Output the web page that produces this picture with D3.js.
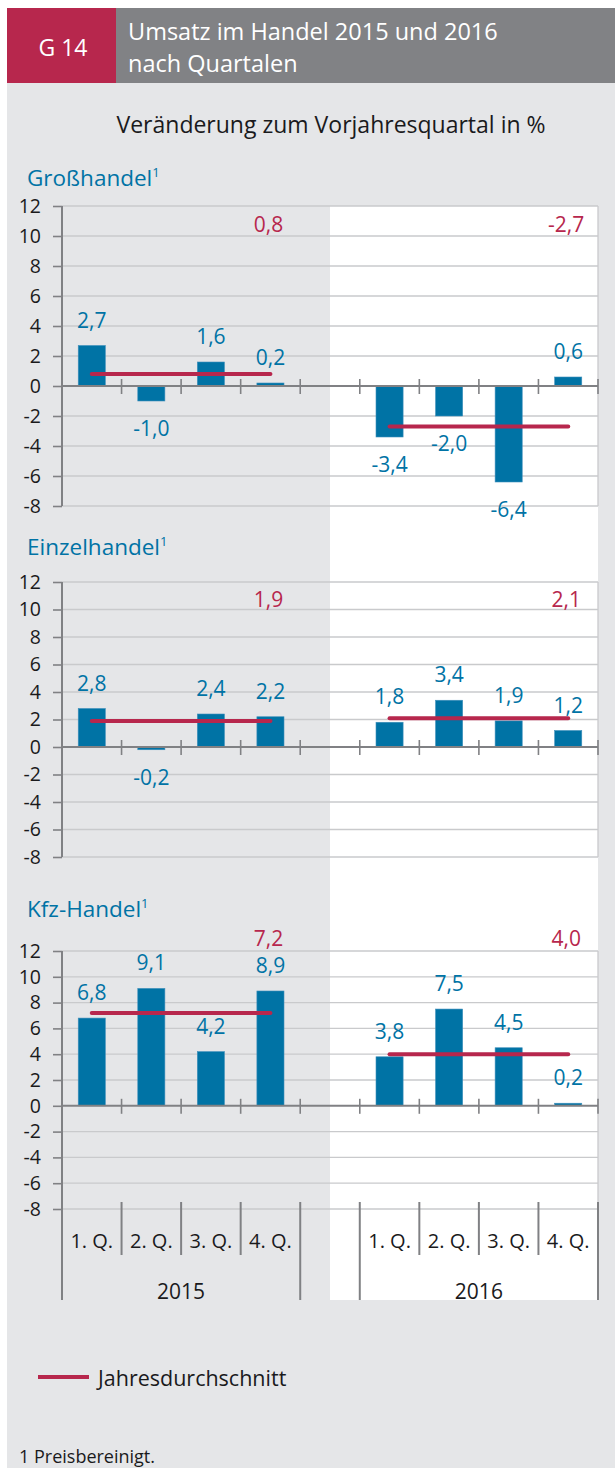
<!DOCTYPE html>
<html lang="de">
<head>
<meta charset="UTF-8">
<title>G 14 Umsatz im Handel</title>
<script src="https://d3js.org/d3.v7.min.js"></script>
<style>
  body { margin: 0; background: #fff; }
  svg text { font-family: "Open Sans", "Noto Sans", sans-serif; }
</style>
</head>
<body>
<div id="chart"></div>
<script>
// data
var years = ["2015", "2016"];
var quarters = ["1. Q.", "2. Q.", "3. Q.", "4. Q."];
var tickValues = [12, 10, 8, 6, 4, 2, 0, -2, -4, -6, -8];

var panelTitles = ["Großhandel", "Einzelhandel", "Kfz-Handel"];
var grossValues = [2.7, -1.0, 1.6, 0.2, -3.4, -2.0, -6.4, 0.6];
var einzelValues = [2.8, -0.2, 2.4, 2.2, 1.8, 3.4, 1.9, 1.2];
var kfzValues = [6.8, 9.1, 4.2, 8.9, 3.8, 7.5, 4.5, 0.2];
var grossAvg = [0.8, -2.7];
var einzelAvg = [1.9, 2.1];
var kfzAvg = [7.2, 4.0];

// colours
var cRed = "#b7274d", cHeadGray = "#818285", cBg = "#e5e6e8",
    cBlue = "#0073a5", cText = "#1a1a1c", cGrid = "#c9cacc", cAxis = "#808184";

var W = 615, H = 1468;
var xL = 62, xR = 598;

var svg = d3.select("#chart").append("svg")
  .attr("width", W).attr("height", H);

// header
svg.append("rect").attr("x", 7).attr("y", 83).attr("width", W - 7).attr("height", H - 83).attr("fill", cBg);
svg.append("rect").attr("x", 7).attr("y", 8).attr("width", 109).attr("height", 75).attr("fill", cRed);
svg.append("rect").attr("x", 116).attr("y", 8).attr("width", W - 116).attr("height", 75).attr("fill", cHeadGray);
svg.append("text").attr("x", 63).attr("y", 56).attr("text-anchor", "middle")
  .attr("fill", "#fff").style("font-size", "23px").text("G 14");
svg.append("text").attr("x", 128).attr("y", 40).attr("fill", "#fff").style("font-size", "23.5px")
  .text("Umsatz im Handel 2015 und 2016");
svg.append("text").attr("x", 128).attr("y", 72).attr("fill", "#fff").style("font-size", "23.5px")
  .text("nach Quartalen");

svg.append("text").attr("x", 331).attr("y", 133).attr("text-anchor", "middle")
  .attr("fill", cText).style("font-size", "23px")
  .text("Veränderung zum Vorjahresquartal in %");

// slots: 4 quarters, a gap, 4 quarters
var slots = ["2015-1", "2015-2", "2015-3", "2015-4", "gap", "2016-1", "2016-2", "2016-3", "2016-4"];
var barSlots = slots.filter(function(s) { return s != "gap"; });
var x = d3.scaleBand().domain(slots).range([xL, xR]);
var barW = x.bandwidth() * 0.455;

// white background behind 2016
var whiteX = x("gap") + x.bandwidth() / 2;
svg.append("rect").attr("x", whiteX).attr("y", 206)
  .attr("width", xR - whiteX).attr("height", 1300 - 206).attr("fill", "#fff");

var loc = d3.formatLocale({decimal: ",", thousands: ".", grouping: [3], currency: ["", "€"], minus: "-"});
var f1 = loc.format(".1f"), f0 = loc.format("d");

var panels = [
  {title: panelTitles[0], values: grossValues, avg: grossAvg, titleY: 186, top: 206, bottom: 506, avgDy: 26},
  {title: panelTitles[1], values: einzelValues, avg: einzelAvg, titleY: 555, top: 582, bottom: 857, avgDy: 25},
  {title: panelTitles[2], values: kfzValues, avg: kfzAvg, titleY: 917, top: 951, bottom: 1209, avgDy: -5}
];

panels.forEach(function(p, pi) {
  var y = d3.scaleLinear().domain([-8, 12]).range([p.bottom, p.top]);
  var g = svg.append("g");

  // title with footnote mark
  var t = g.append("text").attr("x", 27).attr("y", p.titleY).attr("fill", cBlue).style("font-size", "22.5px");
  t.append("tspan").text(p.title);
  t.append("tspan").attr("dy", -9).style("font-size", "13px").text("1");

  // grid
  g.append("g").selectAll("line").data(tickValues.filter(function(v) { return v != 0; }))
    .enter().append("line")
      .attr("x1", xL).attr("x2", xR)
      .attr("y1", function(d) { return y(d); }).attr("y2", function(d) { return y(d); })
      .attr("stroke", cGrid).attr("stroke-width", 1.3);
  // right border
  g.append("line").attr("x1", xR).attr("x2", xR).attr("y1", p.top).attr("y2", p.bottom)
    .attr("stroke", cGrid).attr("stroke-width", 1.3);

  // bars
  g.selectAll(".bar").data(p.values).enter().append("rect")
    .attr("class", "bar")
    .attr("x", function(d, i) { return x(barSlots[i]) + (x.bandwidth() - barW) / 2; })
    .attr("y", function(d) { return d >= 0 ? y(d) : y(0); })
    .attr("width", barW)
    .attr("height", function(d) { return Math.abs(y(d) - y(0)); })
    .attr("fill", cBlue)
    .attr("stroke", "#3f8fbb").attr("stroke-width", 0.6);

  // value labels
  g.selectAll(".val").data(p.values).enter().append("text")
    .attr("class", "val")
    .attr("x", function(d, i) { return x(barSlots[i]) + x.bandwidth() / 2; })
    .attr("y", function(d) { return d >= 0 ? y(d) - 18 : y(d) + 35; })
    .attr("text-anchor", "middle").attr("fill", cBlue).style("font-size", "21px")
    .text(function(d) { return f1(d); });

  // y axis
  var yAxis = g.append("g").attr("transform", "translate(" + xL + ",0)")
    .call(d3.axisLeft(y).tickValues(tickValues).tickSize(9).tickPadding(12).tickFormat(f0));
  yAxis.select(".domain").remove();
  yAxis.selectAll(".tick line").attr("stroke", cAxis).attr("stroke-width", 1.6);
  yAxis.selectAll(".tick text").attr("fill", cText).style("font-size", "19.5px")
    .style("font-family", "'Open Sans', sans-serif");
  g.append("line").attr("x1", xL).attr("x2", xL).attr("y1", p.top)
    .attr("y2", pi == 2 ? 1300 : p.bottom)
    .attr("stroke", cAxis).attr("stroke-width", 2);

  // zero line with ticks at slot borders
  g.append("line").attr("x1", xL).attr("x2", xR).attr("y1", y(0)).attr("y2", y(0))
    .attr("stroke", cAxis).attr("stroke-width", 2);
  var borders = slots.slice(1).map(function(s) { return x(s); }).concat([xR]);
  g.selectAll(".ztick").data(borders).enter().append("line")
    .attr("x1", function(d) { return d; }).attr("x2", function(d) { return d; })
    .attr("y1", y(0) - 7).attr("y2", y(0) + 8)
    .attr("stroke", cAxis).attr("stroke-width", 1.6);

  // yearly average lines
  years.forEach(function(yr, k) {
    var xa = x(yr + "-1") + x.bandwidth() / 2, xb = x(yr + "-4") + x.bandwidth() / 2;
    g.append("line").attr("x1", xa).attr("x2", xb)
      .attr("y1", y(p.avg[k])).attr("y2", y(p.avg[k]))
      .attr("stroke", cRed).attr("stroke-width", 4).attr("stroke-linecap", "round");
    g.append("text").attr("x", xb - 2).attr("y", p.top + p.avgDy)
      .attr("text-anchor", "middle").attr("fill", cRed).style("font-size", "21px")
      .text(f1(p.avg[k]));
  });
});

// category axis under the last panel
var cat = svg.append("g");
years.forEach(function(yr) {
  quarters.forEach(function(q, i) {
    var s = yr + "-" + (i + 1);
    cat.append("text").attr("x", x(s) + x.bandwidth() / 2).attr("y", 1248)
      .attr("text-anchor", "middle").attr("fill", cText).style("font-size", "20px").text(q);
    if (i > 0) {
      cat.append("line").attr("x1", x(s)).attr("x2", x(s)).attr("y1", 1202).attr("y2", 1255)
        .attr("stroke", cAxis).attr("stroke-width", 2);
    }
  });
  var x0 = x(yr + "-1"), x1 = x(yr + "-4") + x.bandwidth();
  cat.append("text").attr("x", (x0 + x1) / 2).attr("y", 1299)
    .attr("text-anchor", "middle").attr("fill", cText).style("font-size", "21px").text(yr);
  [x0, x1].forEach(function(xx) {
    if (xx == xL) return;
    cat.append("line").attr("x1", xx).attr("x2", xx).attr("y1", 1202).attr("y2", 1300)
      .attr("stroke", cAxis).attr("stroke-width", 2);
  });
});

// legend
svg.append("line").attr("x1", 38).attr("x2", 89).attr("y1", 1377).attr("y2", 1377)
  .attr("stroke", cRed).attr("stroke-width", 4);
svg.append("text").attr("x", 98).attr("y", 1386).attr("fill", cText).style("font-size", "21.5px")
  .text("Jahresdurchschnitt");

// footnote
svg.append("text").attr("x", 19).attr("y", 1463).attr("fill", cText).style("font-size", "18px")
  .text("1 Preisbereinigt.");
</script>
</body>
</html>
